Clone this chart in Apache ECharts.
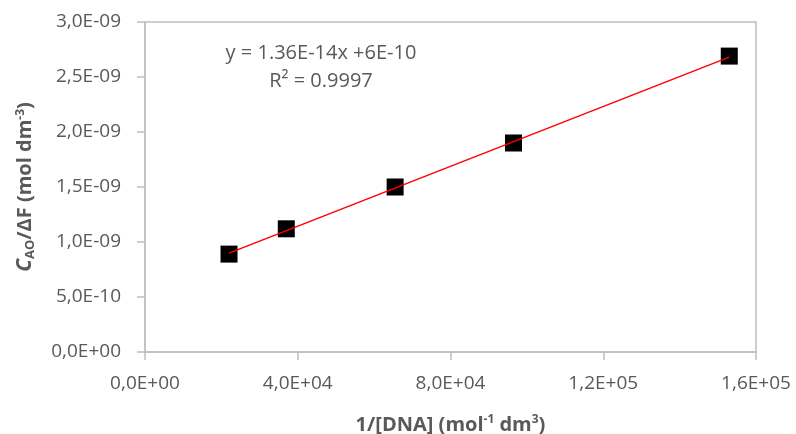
<!DOCTYPE html>
<html>
<head>
<meta charset="utf-8">
<script src="https://cdn.jsdelivr.net/npm/echarts@6/dist/echarts.min.js"></script>
<style>
  html, body { margin: 0; padding: 0; background: #fff; }
  #chart { width: 796px; height: 434px; }
</style>
</head>
<body>
<div id="chart"></div>
<script>
// 1/[DNA] values and C_AO/ΔF values
const dnaInv = [22000, 37000, 65500, 96500, 153000]
const cRatio = [0.89e-9, 1.12e-9, 1.50e-9, 1.90e-9, 2.69e-9]
// linear trend from the chart's own equation
const slope = 1.36e-14
const intercept = 6e-10
const eqLines = ["y = 1.36E-14x +6E-10", "R² = 0.9997"]

const xMin = 0, xMax = 160000, xStep = 40000
const yMin = 0, yMax = 3e-9, yStep = 5e-10

function sciComma(v) {
    // 3.0e-9 -> 3,0E-09
    const s = Number(v).toExponential(1)
    const parts = s.split("e")
    let exp = parseInt(parts[1], 10)
    const sign = exp < 0 ? "-" : "+"
    exp = Math.abs(exp)
    return parts[0].replace(".", ",") + "E" + sign + (exp < 10 ? "0" + exp : exp)
}

const xFirst = dnaInv[0]
const xLast = dnaInv[dnaInv.length - 1]
const trend = [
    [xFirst, slope * xFirst + intercept],
    [xLast, slope * xLast + intercept]
]

const chart = echarts.init(document.getElementById("chart"))
const labelColor = "#595959"
const lineColor = "#bfbfbf"
const font = "'Open Sans', 'DejaVu Sans', sans-serif"

const option = {
    backgroundColor: "#ffffff",
    animation: false,
    grid: {
        left: 145,
        right: 40,
        top: 22,
        bottom: 82,
        containLabel: false,
        outerBoundsMode: "none",
        show: true,
        borderColor: lineColor,
        borderWidth: 1.5
    },
    xAxis: {
        type: "value",
        min: xMin,
        max: xMax,
        interval: xStep,
        name: "1/[DNA] (mol{sup|-1} dm{sup|3})",
        nameLocation: "middle",
        nameGap: 62,
        nameTextStyle: {
            color: labelColor,
            fontFamily: font,
            fontSize: 20,
            fontWeight: "bold",
            rich: {
                sup: {
                    color: labelColor,
                    fontFamily: font,
                    fontSize: 12,
                    fontWeight: "bold",
                    verticalAlign: "top",
                    padding: [0, 0, 10, 0]
                }
            }
        },
        axisLine: { show: true, lineStyle: { color: lineColor, width: 1.5 } },
        axisTick: { show: true, inside: false, length: 8, lineStyle: { color: lineColor, width: 1.5 } },
        splitLine: { show: false },
        axisLabel: {
            color: labelColor,
            fontFamily: font,
            fontSize: 19,
            margin: 22,
            formatter: sciComma
        }
    },
    yAxis: {
        type: "value",
        min: yMin,
        max: yMax,
        interval: yStep,
        name: "{it|C}{sub|AO}{n|/ΔF (mol dm}{sup|-3}{n|)}",
        nameLocation: "middle",
        nameGap: 108,
        nameRotate: 90,
        nameTextStyle: {
            color: labelColor,
            fontFamily: font,
            fontSize: 20,
            fontWeight: "bold",
            rich: {
                it: { color: labelColor, fontFamily: font, fontSize: 21, fontWeight: "bold", fontStyle: "italic" },
                sub: { color: labelColor, fontFamily: font, fontSize: 13, fontWeight: "bold", padding: [10, 0, 0, 0] },
                n: { color: labelColor, fontFamily: font, fontSize: 20, fontWeight: "bold" },
                sup: { color: labelColor, fontFamily: font, fontSize: 12, fontWeight: "bold", padding: [0, 0, 10, 0] }
            }
        },
        axisLine: { show: true, lineStyle: { color: lineColor, width: 1.5 } },
        axisTick: { show: true, inside: false, length: 8, lineStyle: { color: lineColor, width: 1.5 } },
        splitLine: { show: false },
        axisLabel: {
            color: labelColor,
            fontFamily: font,
            fontSize: 19,
            margin: 24,
            formatter: sciComma
        }
    },
    graphic: [
        {
            type: "text",
            x: 321,
            y: 39,
            style: {
                text: eqLines.join("\n"),
                fill: labelColor,
                font: "20px " + font,
                textAlign: "center",
                lineHeight: 28
            }
        }
    ],
    series: [
        {
            name: "trend",
            type: "line",
            data: trend,
            showSymbol: false,
            symbol: "none",
            lineStyle: { color: "#ff0000", width: 1.5 },
            z: 3
        },
        {
            name: "data",
            type: "scatter",
            data: dnaInv.map((x, i) => [x, cRatio[i]]),
            symbol: "rect",
            symbolSize: 17,
            itemStyle: { color: "#000000", opacity: 1 },
            z: 2
        }
    ]
}

chart.setOption(option, true)
</script>
</body>
</html>
